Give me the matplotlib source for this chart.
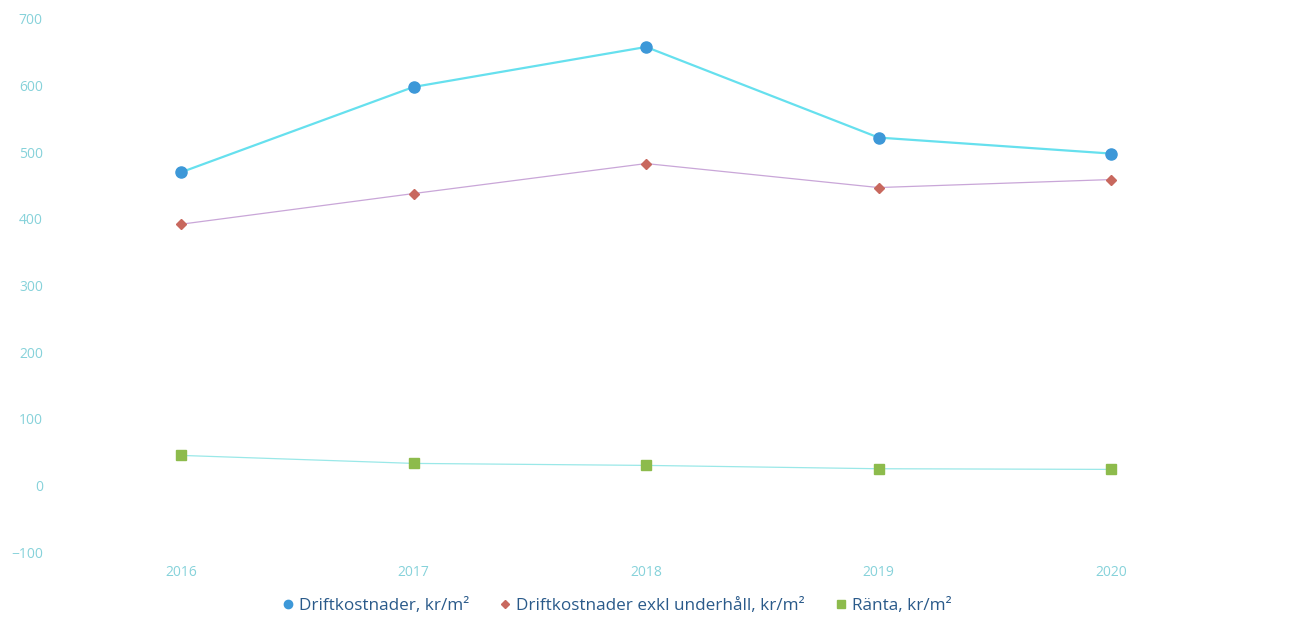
import matplotlib
matplotlib.use('Agg')
import matplotlib.pyplot as plt
from matplotlib.lines import Line2D

plt.rcParams['font.family'] = ['Open Sans', 'DejaVu Sans']

# data
years = [2016, 2017, 2018, 2019, 2020]
drift = [470, 598, 658, 522, 498]
drift_exkl = [392, 438, 483, 447, 459]
ranta = [45, 33, 30, 25, 24]
y_ticks = [-100, 0, 100, 200, 300, 400, 500, 600, 700]

label_color = '#86d2da'

fig = plt.figure(figsize=(13, 6.22), dpi=100)
ax = fig.add_axes([0.05, 0.1125, 0.894, 0.857])

ax.plot(years, drift, color='#66e0ee', linewidth=1.6, zorder=3)
ax.plot(years, drift, linestyle='none', marker='o', markersize=8,
        color='#3d98d8', zorder=4)

ax.plot(years, drift_exkl, color='#c9a6d8', linewidth=0.9, zorder=3)
ax.plot(years, drift_exkl, linestyle='none', marker='D', markersize=5,
        color='#c8685e', zorder=4)

ax.plot(years, ranta, color='#9ae8e8', linewidth=0.9, zorder=3)
ax.plot(years, ranta, linestyle='none', marker='s', markersize=7,
        color='#8dbb4c', zorder=4)

ax.set_xlim(2015.5, 2020.5)
ax.set_ylim(-100, 700)
ax.set_xticks(years)
ax.set_xticklabels([str(y) for y in years])
ax.set_yticks(y_ticks)
ax.set_yticklabels(['\u2212100' if t < 0 else str(t) for t in y_ticks])
ax.tick_params(axis='both', length=0, labelsize=10, labelcolor=label_color)
ax.tick_params(axis='x', pad=9)
ax.tick_params(axis='y', pad=16)
for s in ax.spines.values():
    s.set_visible(False)

handles = [
    Line2D([0], [0], linestyle='none', marker='o', markersize=6, color='#3d98d8'),
    Line2D([0], [0], linestyle='none', marker='D', markersize=4, color='#c8685e'),
    Line2D([0], [0], linestyle='none', marker='s', markersize=6, color='#8dbb4c'),
]
labels = ['Driftkostnader, kr/m²', 'Driftkostnader exkl underhåll, kr/m²', 'Ränta, kr/m²']
fig.legend(handles, labels, loc='center', bbox_to_anchor=(0.474, 0.025), ncol=3,
           frameon=False, fontsize=12.3, handlelength=0.8, handletextpad=0.25,
           columnspacing=1.7, labelcolor='#2a5a8a')

fig.savefig('out.png', dpi=100, facecolor='white')
